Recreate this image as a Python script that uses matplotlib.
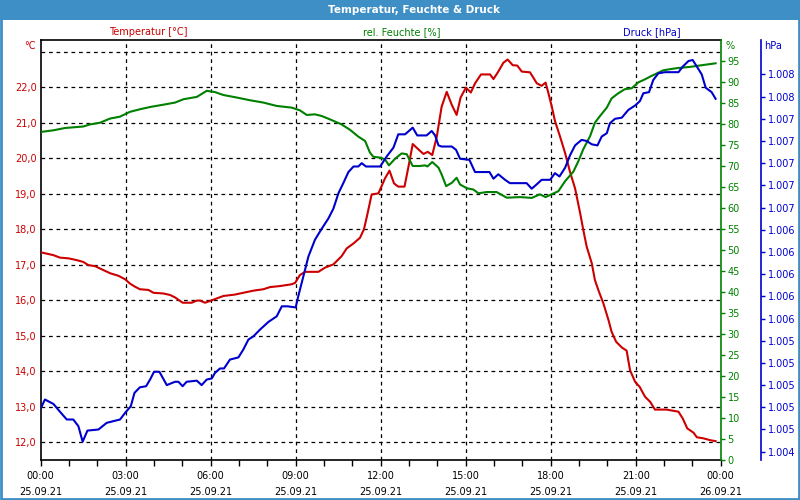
import matplotlib
matplotlib.use("Agg")
import matplotlib.pyplot as plt
from matplotlib.patches import Rectangle
from matplotlib.ticker import FixedLocator, MultipleLocator

# Temperatur [°C]
temp_h = [0.0, 0.45, 0.68, 0.98, 1.27, 1.5, 1.68, 1.92, 2.21, 2.45, 2.74, 2.98, 3.15, 3.33,
          3.5, 3.8, 3.98, 4.33, 4.56, 4.74, 5.01, 5.33, 5.51, 5.62, 5.8, 5.98, 6.21, 6.45,
          6.86, 7.15, 7.51, 7.86, 8.09, 8.45, 8.86, 8.98, 9.15, 9.33, 9.8, 10.04, 10.33,
          10.62, 10.8, 11.04, 11.27, 11.41, 11.51, 11.6, 11.68, 11.92, 12.15, 12.31, 12.47,
          12.62, 12.84, 12.98, 13.13, 13.33, 13.51, 13.66, 13.82, 13.98, 14.15, 14.33, 14.51,
          14.68, 14.82, 15.01, 15.18, 15.33, 15.54, 15.86, 15.98, 16.15, 16.33, 16.48, 16.66,
          16.82, 16.98, 17.27, 17.51, 17.68, 17.82, 17.92, 18.04, 18.15, 18.33, 18.51, 18.68,
          18.86, 19.04, 19.15, 19.27, 19.45, 19.56, 19.68, 19.86, 20.04, 20.15, 20.31, 20.51,
          20.68, 20.8, 20.98, 21.14, 21.33, 21.51, 21.68, 22.09, 22.51, 22.66, 22.82, 23.04,
          23.16, 23.39, 23.62, 23.82]
temp = [17.35, 17.27, 17.20, 17.18, 17.13, 17.08, 16.99, 16.96, 16.85, 16.76, 16.69, 16.59,
        16.47, 16.38, 16.31, 16.29, 16.21, 16.19, 16.15, 16.08, 15.93, 15.93, 15.99, 15.99,
        15.93, 15.98, 16.05, 16.12, 16.16, 16.21, 16.27, 16.31, 16.37, 16.40, 16.45, 16.49,
        16.71, 16.80, 16.80, 16.92, 17.01, 17.24, 17.46, 17.60, 17.76, 18.00, 18.35, 18.68,
        18.98, 19.01, 19.43, 19.65, 19.29, 19.20, 19.20, 19.76, 20.40, 20.25, 20.12, 20.18,
        20.09, 20.61, 21.45, 21.87, 21.50, 21.22, 21.71, 21.99, 21.85, 22.11, 22.36, 22.36,
        22.23, 22.44, 22.69, 22.78, 22.62, 22.61, 22.44, 22.42, 22.11, 22.04, 22.13, 21.83,
        21.45, 21.05, 20.61, 20.14, 19.62, 19.15, 18.45, 17.98, 17.51, 17.04, 16.57, 16.29,
        15.91, 15.44, 15.11, 14.83, 14.67, 14.58, 14.03, 13.70, 13.56, 13.28, 13.14, 12.92,
        12.92, 12.86, 12.67, 12.39, 12.27, 12.14, 12.11, 12.06, 12.03]

# rel. Feuchte [%]
hum_h = [0.0, 0.45, 0.86, 1.5, 1.74, 2.09, 2.45, 2.8, 3.15, 3.5, 3.86, 4.33, 4.74, 5.04,
         5.51, 5.86, 6.15, 6.45, 6.92, 7.39, 7.86, 8.33, 8.86, 9.15, 9.39, 9.68, 9.92, 10.21,
         10.62, 10.92, 11.21, 11.45, 11.62, 11.74, 11.98, 12.15, 12.29, 12.51, 12.74, 12.92,
         13.13, 13.39, 13.56, 13.65, 13.82, 14.04, 14.15, 14.31, 14.51, 14.68, 14.8, 15.04,
         15.27, 15.45, 15.74, 16.09, 16.45, 16.92, 17.33, 17.62, 17.82, 17.98, 18.27, 18.51,
         18.8, 18.98, 19.15, 19.39, 19.56, 19.74, 19.98, 20.15, 20.38, 20.62, 20.86, 21.09,
         21.33, 21.56, 21.98, 22.45, 22.92, 23.39, 23.82]
hum = [78.1, 78.5, 79.05, 79.4, 79.9, 80.3, 81.3, 81.75, 82.9, 83.5, 84.05, 84.6, 85.1, 85.9,
       86.45, 87.9, 87.6, 86.9, 86.3, 85.65, 85.1, 84.3, 83.9, 83.25, 82.15, 82.3, 81.9, 81.1,
       79.9, 78.6, 77.0, 75.95, 73.2, 72.2, 72.0, 71.6, 70.15, 71.75, 73.0, 72.8, 70.0, 70.0,
       70.15, 69.9, 70.95, 69.6, 68.0, 65.2, 66.0, 67.2, 65.6, 64.7, 64.4, 63.5, 63.8, 63.8,
       62.45, 62.6, 62.4, 63.25, 62.6, 63.1, 64.0, 66.4, 68.65, 71.2, 74.0, 77.1, 80.3, 81.9,
       83.9, 86.1, 87.3, 88.3, 88.5, 89.9, 90.65, 91.45, 92.8, 93.3, 93.6, 94.05, 94.45]

# Druck [hPa]
pres_h = [0.0, 0.15, 0.45, 0.68, 0.92, 1.15, 1.33, 1.48, 1.65, 2.04, 2.33, 2.8, 2.98, 3.18,
          3.31, 3.5, 3.72, 3.86, 4.0, 4.19, 4.45, 4.74, 4.86, 5.01, 5.15, 5.51, 5.68, 5.86,
          6.04, 6.15, 6.33, 6.47, 6.68, 6.98, 7.15, 7.33, 7.51, 7.74, 8.04, 8.33, 8.51, 8.71,
          9.0, 9.09, 9.27, 9.45, 9.68, 9.92, 10.15, 10.33, 10.51, 10.68, 10.86, 11.04, 11.21,
          11.33, 11.48, 11.98, 12.21, 12.45, 12.62, 12.86, 13.13, 13.29, 13.62, 13.8, 13.92,
          14.04, 14.15, 14.51, 14.66, 14.8, 15.13, 15.33, 15.84, 15.98, 16.15, 16.39, 16.56,
          17.15, 17.33, 17.51, 17.68, 17.98, 18.15, 18.31, 18.51, 18.68, 18.86, 19.09, 19.27,
          19.45, 19.65, 19.8, 19.98, 20.09, 20.27, 20.51, 20.74, 20.98, 21.15, 21.27, 21.47,
          21.62, 21.8, 22.04, 22.51, 22.66, 22.86, 23.01, 23.16, 23.33, 23.47, 23.68, 23.82]
pres = [1004.79, 1004.87, 1004.83, 1004.76, 1004.69, 1004.69, 1004.63, 1004.49, 1004.59,
        1004.60, 1004.66, 1004.69, 1004.75, 1004.81, 1004.93, 1004.98, 1004.99, 1005.05,
        1005.12, 1005.12, 1005.00, 1005.03, 1005.03, 1004.99, 1005.03, 1005.04, 1005.00,
        1005.05, 1005.06, 1005.11, 1005.15, 1005.15, 1005.23, 1005.25, 1005.32, 1005.41,
        1005.44, 1005.50, 1005.57, 1005.62, 1005.71, 1005.71, 1005.70, 1005.80, 1005.98,
        1006.16, 1006.31, 1006.41, 1006.50, 1006.59, 1006.73, 1006.82, 1006.92, 1006.97,
        1006.97, 1007.00, 1006.97, 1006.97, 1007.06, 1007.14, 1007.26, 1007.26, 1007.32,
        1007.25, 1007.25, 1007.29, 1007.25, 1007.16, 1007.15, 1007.15, 1007.12, 1007.04,
        1007.03, 1006.92, 1006.92, 1006.86, 1006.90, 1006.85, 1006.82, 1006.82, 1006.77,
        1006.81, 1006.85, 1006.85, 1006.91, 1006.88, 1006.96, 1007.07, 1007.16, 1007.21,
        1007.20, 1007.17, 1007.16, 1007.24, 1007.27, 1007.36, 1007.40, 1007.41, 1007.48,
        1007.52, 1007.56, 1007.63, 1007.64, 1007.75, 1007.81, 1007.82, 1007.82, 1007.87,
        1007.92, 1007.93, 1007.87, 1007.80, 1007.68, 1007.64, 1007.58]

# axis ticks
x_ticks = [0, 3, 6, 9, 12, 15, 18, 21, 24]
x_times = ["00:00", "03:00", "06:00", "09:00", "12:00", "15:00", "18:00", "21:00", "00:00"]
x_dates = ["25.09.21"] * 8 + ["26.09.21"]
temp_ticks = [12, 13, 14, 15, 16, 17, 18, 19, 20, 21, 22]
grid_ticks = temp_ticks + [23]
hum_ticks = list(range(0, 100, 5))
pres_ticks = [1004.4, 1004.6, 1004.8, 1005.0, 1005.2, 1005.4, 1005.6, 1005.8, 1006.0,
              1006.2, 1006.4, 1006.6, 1006.8, 1007.0, 1007.2, 1007.4, 1007.6, 1007.8]

RED = "#cc0000"
GREEN = "#008000"
BLUE = "#0000cc"
FRAME = "#3d8fc6"

plt.rcParams["font.family"] = ["DejaVu Sans"]
plt.rcParams["font.size"] = 7

fig = plt.figure(figsize=(8, 5), dpi=100)
fig.patch.set_facecolor("white")

# title bar and window frame
fig.patches.append(Rectangle((0, 1 - 20 / 500), 1, 20 / 500, transform=fig.transFigure,
                             facecolor=FRAME, edgecolor="none", zorder=0))
fig.patches.append(Rectangle((0.001, 0.002), 0.998, 0.996, transform=fig.transFigure,
                             fill=False, edgecolor=FRAME, linewidth=2, zorder=5))
fig.text(414 / 800, 1 - 10 / 500, "Temperatur, Feuchte & Druck", color="white",
         fontsize=7.5, fontweight="bold", ha="center", va="center")

ax = fig.add_axes([40.7 / 800, 40 / 500, 680 / 800, 420 / 500])
ax.set_xlim(0, 24)
ax.set_ylim(11.5, 23.33)

# dashed grid
for g in grid_ticks:
    ax.axhline(g, color="black", linestyle=(0, (3, 3)), linewidth=0.9, zorder=1)
for t in x_ticks[1:-1]:
    ax.axvline(t, color="black", linestyle=(0, (3, 3)), linewidth=0.9, zorder=1)

ax.set_xticks(x_ticks)
ax.set_xticklabels([f"{t}\n{d}" for t, d in zip(x_times, x_dates)], linespacing=1.7)
ax.xaxis.set_minor_locator(MultipleLocator(1))
ax.tick_params(axis="x", which="both", length=4, width=1, pad=4, color="black")
ax.set_yticks(temp_ticks)
ax.set_yticklabels([f"{v:.1f}".replace(".", ",") for v in temp_ticks])
ax.tick_params(axis="y", length=0, pad=3, labelcolor=RED)
for s in ["left", "top", "bottom"]:
    ax.spines[s].set_color("black")
    ax.spines[s].set_linewidth(1.2)
ax.spines["right"].set_visible(False)

ax2 = ax.twinx()
ax2.set_ylim(0, 100)
ax2.yaxis.set_major_locator(FixedLocator(hum_ticks))
ax2.set_yticklabels([str(v) for v in hum_ticks])
ax2.tick_params(axis="y", length=3, width=1, color=GREEN, labelcolor=GREEN, pad=2)
for s in ["left", "top", "bottom"]:
    ax2.spines[s].set_visible(False)
ax2.spines["right"].set_color(GREEN)
ax2.spines["right"].set_linewidth(1.2)

ax3 = ax.twinx()
ax3.set_ylim(1004.325, 1008.11)
ax3.yaxis.set_major_locator(FixedLocator(pres_ticks))
ax3.set_yticklabels([f"{v:,.0f}".replace(",", ".") for v in pres_ticks])
ax3.tick_params(axis="y", length=3, width=1, color=BLUE, labelcolor=BLUE, pad=2)
for s in ["left", "top", "bottom"]:
    ax3.spines[s].set_visible(False)
# 40 px outward (spine offsets are in points)
ax3.spines["right"].set_position(("outward", 40 * 72 / 100))
ax3.spines["right"].set_color(BLUE)
ax3.spines["right"].set_linewidth(1.2)

ax.plot(temp_h, temp, color=RED, linewidth=1.5, zorder=3)
ax2.plot(hum_h, hum, color=GREEN, linewidth=1.5)
ax3.plot(pres_h, pres, color=BLUE, linewidth=1.5)

# unit labels and series names
fig.text(30 / 800, 1 - 46 / 500, "°C", color=RED, ha="center", va="center")
fig.text(725 / 800, 1 - 46 / 500, "%", color=GREEN, ha="left", va="center")
fig.text(764 / 800, 1 - 46 / 500, "hPa", color=BLUE, ha="left", va="center")
fig.text(148 / 800, 1 - 32 / 500, "Temperatur [°C]", color=RED, ha="center", va="center")
fig.text(402 / 800, 1 - 32 / 500, "rel. Feuchte [%]", color=GREEN, ha="center", va="center")
fig.text(652 / 800, 1 - 32 / 500, "Druck [hPa]", color=BLUE, ha="center", va="center")

fig.savefig("out.png", dpi=100)
